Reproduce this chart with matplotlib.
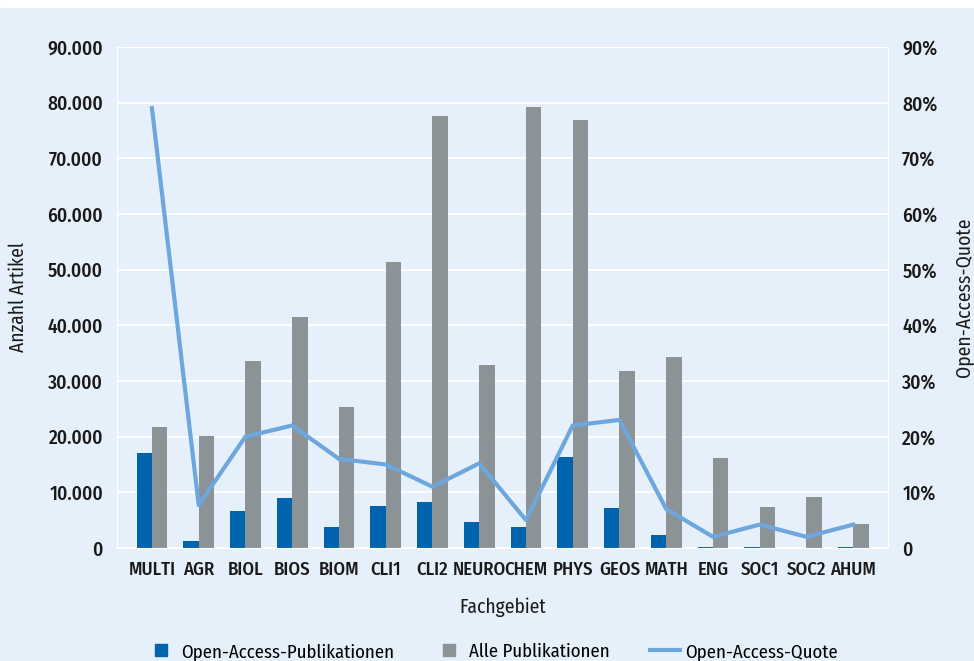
import numpy as np
import matplotlib.pyplot as plt
from matplotlib.lines import Line2D

plt.rcParams['font.family'] = ['Fira Sans Condensed', 'DejaVu Sans']

# Daten
fachgebiete = ["MULTI", "AGR", "BIOL", "BIOS", "BIOM", "CLI1", "CLI2", "NEURO",
               "CHEM", "PHYS", "GEOS", "MATH", "ENG", "SOC1", "SOC2", "AHUM"]
oa_publikationen = [17100, 1300, 6600, 9000, 3700, 7500, 8200, 4700,
                    3800, 16400, 7100, 2300, 250, 200, 50, 150]
alle_publikationen = [21800, 20100, 33600, 41400, 25400, 51300, 77600, 32900,
                      79200, 76800, 31700, 34300, 16100, 7300, 9200, 4300]
oa_quote = [79.0, 7.7, 20.0, 22.0, 16.0, 15.0, 11.0, 15.2,
            5.0, 22.0, 23.0, 7.0, 2.0, 4.2, 2.0, 4.2]

bg = "#e6f0fa"
blau = "#0063ae"
grau = "#8c9396"
linie = "#6ea6de"
text = "#1a1a1a"

fig = plt.figure(figsize=(9.74, 6.61), dpi=100)
fig.patch.set_facecolor(bg)
fig.add_artist(plt.Rectangle((0, 1 - 7 / 661), 1, 7 / 661, transform=fig.transFigure,
                             color="white", zorder=0))

ax = fig.add_axes([0.12, 0.171, 0.792, 0.758])
ax.set_facecolor(bg)
x = np.arange(len(fachgebiete))
w = 0.33
ax.bar(x - w / 2, oa_publikationen, w, color=blau, zorder=3)
ax.bar(x + w / 2, alle_publikationen, w, color=grau, zorder=3)
ax.set_xlim(-0.75, len(fachgebiete) - 0.25)
ax.set_ylim(0, 90000)
ax.set_yticks(range(0, 90001, 10000))
ax.set_yticklabels(["0"] + [f"{v // 1000}.000" for v in range(10000, 90001, 10000)],
                   fontsize=14, color=text, fontweight=500)
ax.set_xticks(x)
ax.set_xticklabels(fachgebiete, fontsize=13.5, color=text, fontweight=500)
ax.grid(axis="y", color="white", linewidth=1.2, zorder=0)
ax.tick_params(length=0, pad=9)
ax.tick_params(axis="y", pad=10)
for s in ax.spines.values():
    s.set_color("white")
ax.set_xlabel("Fachgebiet", fontsize=14, labelpad=14, color=text)
ax.set_ylabel("Anzahl Artikel", fontsize=14, labelpad=14, color=text)

ax2 = ax.twinx()
ax2.plot(x, oa_quote, color=linie, linewidth=3, zorder=4)
ax2.set_ylim(0, 90)
ax2.set_yticks(range(0, 91, 10))
ax2.set_yticklabels(["0"] + [f"{v}%" for v in range(10, 91, 10)], fontsize=14,
                    color=text, fontweight=500)
ax2.tick_params(length=0, pad=10)
for s in ax2.spines.values():
    s.set_color("white")
ax2.set_ylabel("Open-Access-Quote", fontsize=14, labelpad=12, color=text)

handles = [Line2D([], [], marker="s", linestyle="none", markersize=8, color=blau),
           Line2D([], [], marker="s", linestyle="none", markersize=8, color=grau),
           Line2D([], [], color=linie, linewidth=3)]
fig.legend(handles, ["Open-Access-Publikationen", "Alle Publikationen", "Open-Access-Quote"],
           loc="lower center", bbox_to_anchor=(0.505, -0.025), ncol=3, frameon=False,
           fontsize=13.5, handlelength=1.6, handletextpad=0.3, columnspacing=2.1)

fig.savefig("out.png", dpi=100, facecolor=bg)
